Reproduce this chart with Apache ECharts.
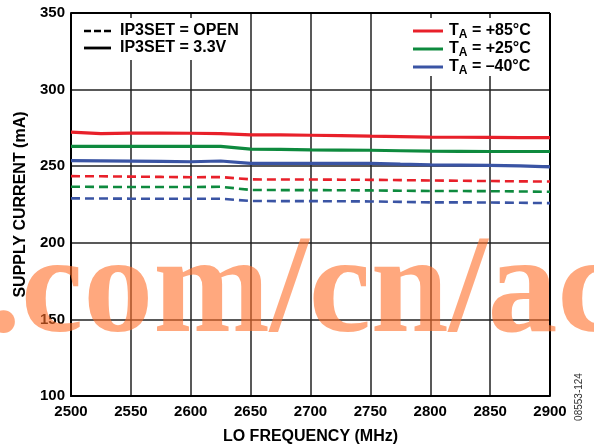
<!DOCTYPE html>
<html>
<head>
<meta charset="utf-8">
<style>html,body{margin:0;padding:0;background:#fff;}#c{width:594px;height:448px;}</style>
<script src="https://cdn.jsdelivr.net/npm/echarts@6/dist/echarts.min.js"></script>
</head>
<body>
<div id="c"></div>
<script>
var freq = [2500,2525,2550,2575,2600,2625,2650,2675,2700,2725,2750,2775,2800,2825,2850,2875,2900];
var red33  = [272.3,271.2,271.6,271.6,271.5,271.3,270.4,270.4,270.2,270.0,269.6,269.3,269.0,268.9,268.8,268.7,268.7];
var grn33  = [263.0,263.0,263.0,263.0,263.0,262.9,261.2,261.0,260.6,260.5,260.4,260.1,259.8,259.7,259.6,259.6,259.6];
var blu33  = [253.7,253.5,253.3,253.1,252.9,253.4,251.9,251.8,251.8,251.9,251.9,251.3,250.8,250.7,250.6,250.2,249.6];
var redOp  = [243.5,243.4,243.2,243.0,242.8,242.9,241.4,241.3,241.3,241.2,241.1,240.9,240.7,240.5,240.3,240.1,240.0];
var grnOp  = [236.6,236.5,236.4,236.4,236.4,236.6,234.5,234.4,234.4,234.3,234.2,234.0,233.8,233.8,233.7,233.5,233.3];
var bluOp  = [229.0,228.9,228.8,228.8,228.8,228.8,227.3,227.2,227.2,227.1,227.0,226.7,226.4,226.4,226.3,226.1,225.9];
var xTicks = [2500,2550,2600,2650,2700,2750,2800,2850,2900];
var yTicks = [100,150,200,250,300,350];

var RED = '#E8202A', GRN = '#0E8A3E', BLU = '#3A54A4';
function pts(v){ return freq.map(function(f,i){ return [f, v[i]]; }); }
function ser(name, v, color, dashed){
  return {name:name, type:'line', data:pts(v), symbol:'none', smooth:false, z:5,
    lineStyle:{color:color, width: dashed?2.6:3.2, type: dashed?[9,5]:'solid'}};
}
var F = 'Liberation Sans, Arial, sans-serif';
var chart = echarts.init(document.getElementById('c'));
chart.setOption({
  animation:false,
  grid:{left:71, right:44, top:13, bottom:52, containLabel:false, outerBoundsMode:'none'},
  xAxis:{type:'value', min:xTicks[0], max:xTicks[xTicks.length-1], interval:50,
    name:'LO FREQUENCY (MHz)', nameLocation:'middle', nameGap:33,
    nameTextStyle:{fontFamily:F, fontWeight:'bold', fontSize:16, color:'#000'},
    axisLine:{show:true, lineStyle:{color:'#000', width:2}},
    axisTick:{show:false},
    axisLabel:{fontFamily:F, fontWeight:'bold', fontSize:15, color:'#000', margin:8,
      formatter:function(v){ return String(v); }},
    splitLine:{show:true, lineStyle:{color:'#222', width:1.5}}},
  yAxis:{type:'value', min:yTicks[0], max:yTicks[yTicks.length-1], interval:50,
    name:'SUPPLY CURRENT (mA)', nameLocation:'middle', nameGap:42,
    nameTextStyle:{fontFamily:F, fontWeight:'bold', fontSize:16, color:'#000'},
    axisLine:{show:true, lineStyle:{color:'#000', width:2}},
    axisTick:{show:false},
    axisLabel:{fontFamily:F, fontWeight:'bold', fontSize:15, color:'#000', margin:6},
    splitLine:{show:true, lineStyle:{color:'#222', width:1.5}}},
  series:[
    ser('+85 3.3V', red33, RED, false),
    ser('+25 3.3V', grn33, GRN, false),
    ser('-40 3.3V', blu33, BLU, false),
    ser('+85 OPEN', redOp, RED, true),
    ser('+25 OPEN', grnOp, GRN, true),
    ser('-40 OPEN', bluOp, BLU, true),
    {type:'line', data:[], markLine:{silent:true, symbol:'none', label:{show:false},
      lineStyle:{color:'#000', width:2, type:'solid'},
      data:[{yAxis:350},{xAxis:2900}]}}
  ],
  graphic:[
    {type:'rect', shape:{x:76, y:18, width:170, height:42}, style:{fill:'#fff'}, z:3},
    {type:'rect', shape:{x:405, y:18, width:132, height:58}, style:{fill:'#fff'}, z:3},
    {type:'line', shape:{x1:84, y1:31, x2:111, y2:31}, style:{stroke:'#000', lineWidth:2.6, lineDash:[7,3]}, z:4},
    {type:'line', shape:{x1:84, y1:48, x2:111, y2:48}, style:{stroke:'#000', lineWidth:2.8}, z:4},
    {type:'text', x:120, y:31, style:{text:'IP3SET = OPEN', fontFamily:F, fontWeight:'bold', fontSize:16, fill:'#000', textVerticalAlign:'middle'}, z:4},
    {type:'text', x:120, y:48, style:{text:'IP3SET = 3.3V', fontFamily:F, fontWeight:'bold', fontSize:16, fill:'#000', textVerticalAlign:'middle'}, z:4},
    {type:'line', shape:{x1:413, y1:31, x2:443, y2:31}, style:{stroke:RED, lineWidth:3}, z:4},
    {type:'line', shape:{x1:413, y1:49, x2:443, y2:49}, style:{stroke:GRN, lineWidth:3}, z:4},
    {type:'line', shape:{x1:413, y1:67, x2:443, y2:67}, style:{stroke:BLU, lineWidth:3}, z:4},
    {type:'text', x:449, y:31, style:{text:'{t|T}{s|A}{t| = +85°C}', fontFamily:F, fontWeight:'bold', fill:'#000', textVerticalAlign:'middle',
      rich:{t:{fontFamily:F, fontWeight:'bold', fontSize:16, fill:'#000'}, s:{fontFamily:F, fontWeight:'bold', fontSize:12, fill:'#000', padding:[8,0,0,0]}}}, z:4},
    {type:'text', x:449, y:49, style:{text:'{t|T}{s|A}{t| = +25°C}', fontFamily:F, fontWeight:'bold', fill:'#000', textVerticalAlign:'middle',
      rich:{t:{fontFamily:F, fontWeight:'bold', fontSize:16, fill:'#000'}, s:{fontFamily:F, fontWeight:'bold', fontSize:12, fill:'#000', padding:[8,0,0,0]}}}, z:4},
    {type:'text', x:449, y:67, style:{text:'{t|T}{s|A}{t| = –40°C}', fontFamily:F, fontWeight:'bold', fill:'#000', textVerticalAlign:'middle',
      rich:{t:{fontFamily:F, fontWeight:'bold', fontSize:16, fill:'#000'}, s:{fontFamily:F, fontWeight:'bold', fontSize:12, fill:'#000', padding:[8,0,0,0]}}}, z:4},
    {type:'text', x:579, y:397, rotation:Math.PI/2, style:{text:'08553-124', fontFamily:F, fontSize:10, fill:'#333', textAlign:'center', textVerticalAlign:'middle'}, z:4},
    {type:'text', x:-14, y:365, style:{text:'.com/cn/ac', fontFamily:'Liberation Serif, serif', fontWeight:'bold', fontSize:140, fill:'rgba(255,110,40,0.6)', textVerticalAlign:'bottom'}, z:100}
  ]
});
</script>
</body>
</html>
